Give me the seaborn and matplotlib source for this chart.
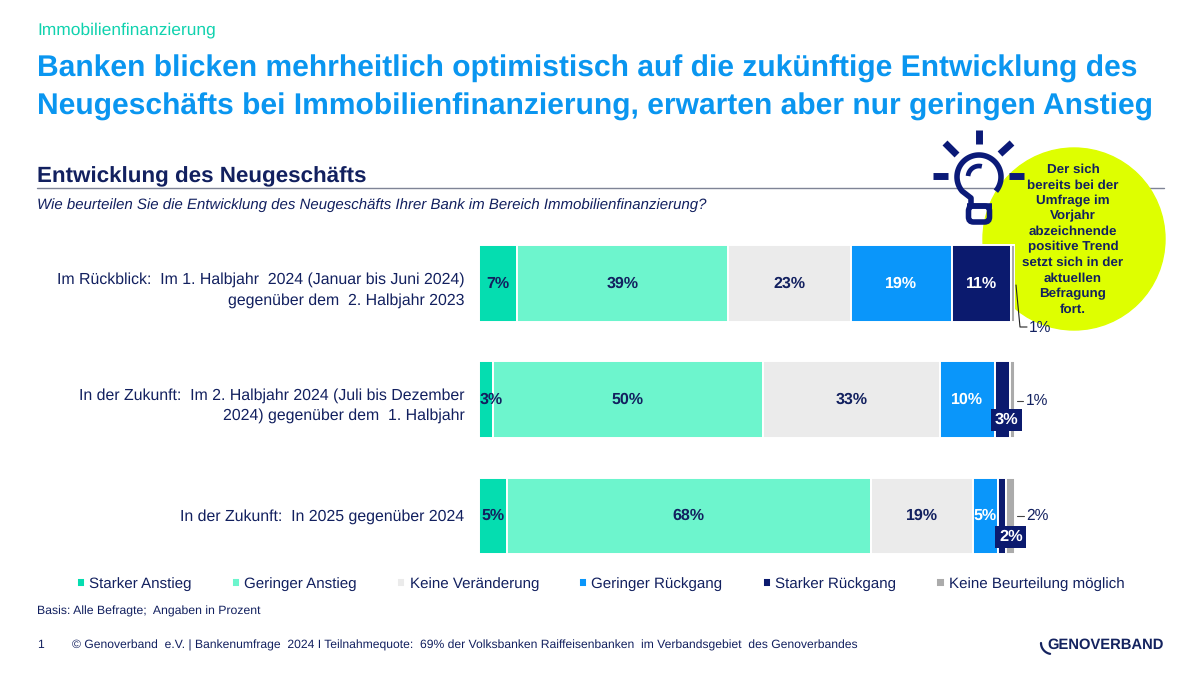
#!/usr/bin/env python3
"""Genoverband Bankenumfrage 2024: Entwicklung des Neugeschaefts."""

from __future__ import annotations

import matplotlib

matplotlib.use("Agg")

import matplotlib.pyplot as plt
import numpy as np
import pandas as pd
import seaborn as sns
from matplotlib.patches import Circle, FancyBboxPatch

NAVY = "#12205F"
ICON = "#0B1A78"
TITLE_BLUE = "#0A96F0"

QUESTIONS = [
    "Im Rückblick:  Im 1. Halbjahr  2024 (Januar bis Juni 2024)\ngegenüber dem  2. Halbjahr 2023",
    "In der Zukunft:  Im 2. Halbjahr 2024 (Juli bis Dezember\n2024) gegenüber dem  1. Halbjahr",
    "In der Zukunft:  In 2025 gegenüber 2024",
]
SERIES = [
    "Starker Anstieg",
    "Geringer Anstieg",
    "Keine Veränderung",
    "Geringer Rückgang",
    "Starker Rückgang",
    "Keine Beurteilung möglich",
]
COLORS = ["#05DDB0", "#6DF5CD", "#EBEBEB", "#0A96FA", "#0B1A6E", "#ABABAB"]

# bar widths, printed labels are the rounded ones
STARKER_ANSTIEG = [7.1, 2.6, 5.2]
GERINGER_ANSTIEG = [39.4, 50.4, 67.9]
KEINE_VERAENDERUNG = [22.9, 33.0, 19.0]
GERINGER_RUECKGANG = [18.8, 10.2, 4.8]
STARKER_RUECKGANG = [11.0, 2.8, 1.5]
KEINE_BEURTEILUNG = [0.8, 1.0, 1.6]

CIRCLE_TEXT = (
    "Der sich\nbereits bei der\nUmfrage im\nVorjahr\nabzeichnende\npositive Trend\n"
    "setzt sich in der\naktuellen\nBefragung\nfort."
)

sns.set_theme(style="white")
plt.rcParams["font.family"] = ["Liberation Sans", "DejaVu Sans"]
plt.rcParams["text.hinting"] = "no_hinting"


def draw_bulb(ax) -> None:
    lw = 4.0
    for x0, y0, x1, y1 in [
        (979, 130, 979, 144),
        (945, 143, 957, 155),
        (1012, 143, 1000, 154),
        (933, 175.5, 948, 175.5),
        (1009, 175.5, 1024, 175.5),
    ]:
        ax.plot([x0, x1], [y0, y1], color=ICON, lw=5, solid_capstyle="butt")
    # glass, y runs downwards here
    t = np.radians(np.linspace(140, 400, 80))
    xs = np.r_[971, 971, 979 + 22 * np.cos(t)]
    ys = np.r_[206, 198, 177 + 22 * np.sin(t)]
    ax.plot(xs, ys, color=ICON, lw=lw, solid_capstyle="butt")
    # highlight
    t = np.radians(np.linspace(185, 285, 20))
    ax.plot(979 + 11 * np.cos(t), 177 + 11 * np.sin(t), color=ICON, lw=lw - 0.6,
            solid_capstyle="butt")
    # socket
    ax.add_patch(FancyBboxPatch((968.5, 206), 21, 16, boxstyle="round,pad=0,rounding_size=5",
                                fill=False, ec=ICON, lw=lw))
    ax.plot([966.5, 991.5], [206, 206], color=ICON, lw=lw, solid_capstyle="butt")


def main() -> None:
    fig = plt.figure(figsize=(12, 6.75), dpi=100, facecolor="white")

    # helper layers in picture pixels, behind and in front of the bars
    back = fig.add_axes([0, 0, 1, 1], zorder=0)
    front = fig.add_axes([0, 0, 1, 1], zorder=2)
    for layer in (back, front):
        layer.set_xlim(0, 1200)
        layer.set_ylim(675, 0)
        layer.axis("off")
    front.patch.set_alpha(0)

    back.plot([37, 1164], [188, 188], color="#7F8496", lw=1)
    back.add_patch(Circle((1074, 239), 91, color="#DEFF00", zorder=3))

    top_px, bottom_px = 225, 575
    first_px, last_px = 283.5, 516
    step = (last_px - first_px) / 2
    ax = fig.add_axes(
        [479 / 1200, 1 - bottom_px / 675, 536 / 1200, (bottom_px - top_px) / 675], zorder=1
    )
    ax.patch.set_alpha(0)

    values = [
        STARKER_ANSTIEG,
        GERINGER_ANSTIEG,
        KEINE_VERAENDERUNG,
        GERINGER_RUECKGANG,
        STARKER_RUECKGANG,
        KEINE_BEURTEILUNG,
    ]
    df = pd.DataFrame(dict(zip(SERIES, values)))
    df.insert(0, "frage", QUESTIONS)

    lefts = np.zeros(len(QUESTIONS))
    label_pos = {}
    for name, color in zip(SERIES, COLORS):
        sns.barplot(
            data=df,
            y="frage",
            x=name,
            order=QUESTIONS,
            left=lefts,
            color=color,
            saturation=1,
            width=0.66,
            edgecolor="white",
            linewidth=1.4,
            errorbar=None,
            label=name,
            legend=False,
            ax=ax,
        )
        label_pos[name] = lefts + df[name].to_numpy() / 2
        lefts = lefts + df[name].to_numpy()

    ax.set_xlim(0, 100)
    ax.set_ylim((bottom_px - first_px) / step, (top_px - first_px) / step)
    ax.set_xlabel("")
    ax.set_ylabel("")
    ax.set_xticks([])
    ax.set_yticklabels([])
    sns.despine(ax=ax, left=True, bottom=True, top=True, right=True)
    ax.tick_params(axis="y", length=0)

    # question texts sit a little below the bar centres in the original
    for i, (question, dy) in enumerate(zip(QUESTIONS, [6.5, 5.5, 1])):
        ax.annotate(question, (0, i), xytext=(-10.5, -dy * 0.72), textcoords="offset points",
                    ha="right", va="center", ma="right", fontsize=11.4, color=NAVY,
                    linespacing=1.45)

    # value labels inside the bars
    for name, color in zip(SERIES[:4], [NAVY, NAVY, NAVY, "white"]):
        for i, (x, v) in enumerate(zip(label_pos[name], df[name])):
            shift = 5 * 0.72 if (name, i) == (SERIES[0], 1) else 0
            ax.annotate(f"{round(v)}%", (x, i), xytext=(shift, 0), textcoords="offset points",
                        ha="center", va="center", fontsize=11.5, fontweight="bold", color=color)
    ax.text(label_pos[SERIES[4]][0], 0, f"{round(STARKER_RUECKGANG[0])}%", ha="center",
            va="center", fontsize=11.5, fontweight="bold", color="white", zorder=6)

    # narrow segments get a small box below the centre line
    box = dict(boxstyle="square,pad=0.22", fc="#0B1A6E", ec="none")
    for i, dx, dy in [(1, 4.5, 20), (2, 8.5, 21)]:
        ax.annotate(f"{round(STARKER_RUECKGANG[i])}%", (label_pos[SERIES[4]][i], i),
                    xytext=(dx * 0.72, -dy * 0.72), textcoords="offset points", ha="center",
                    va="center", fontsize=11.8, fontweight="bold", color="white", bbox=box,
                    zorder=7)

    # outside labels with leader lines
    front.plot([1016, 1020, 1027], [285, 327, 327], color="#222222", lw=0.8)
    front.plot([1017, 1023], [401, 401], color="#444444", lw=0.8)
    front.plot([1017, 1024], [516, 516], color="#444444", lw=0.8)
    for px, py, v in [(1040, 328, KEINE_BEURTEILUNG[0]), (1037, 401, KEINE_BEURTEILUNG[1]),
                      (1037, 516, KEINE_BEURTEILUNG[2])]:
        front.text(px, py, f"{round(v)}%", ha="center", va="center", fontsize=11.2, color=NAVY)

    # header
    front.text(37, 30, "Immobilienfinanzierung", fontsize=12.5, color="#10D2AE", va="center")
    front.text(37, 68.5, "Banken blicken mehrheitlich optimistisch auf die zukünftige Entwicklung des",
               fontsize=21.6, fontweight="bold", color=TITLE_BLUE, va="center")
    front.text(37, 106.5, "Neugeschäfts bei Immobilienfinanzierung, erwarten aber nur geringen Anstieg",
               fontsize=21.6, fontweight="bold", color=TITLE_BLUE, va="center")
    front.text(37, 177, "Entwicklung des Neugeschäfts", fontsize=16.1, fontweight="bold",
               color=NAVY, va="center")
    front.text(37, 205, "Wie beurteilen Sie die Entwicklung des Neugeschäfts Ihrer Bank im Bereich Immobilienfinanzierung?",
               fontsize=10.8, style="italic", color=NAVY, va="center")

    draw_bulb(front)
    front.text(1073, 239.5, CIRCLE_TEXT, ha="center", va="center", fontsize=9.6, fontweight="bold",
               color=NAVY, linespacing=1.36)

    # legend
    handles, labels = ax.get_legend_handles_labels()
    fig.legend(
        handles,
        labels,
        ncols=6,
        loc="center left",
        bbox_to_anchor=(77 / 1200, 1 - 584 / 675),
        frameon=False,
        fontsize=10.9,
        labelcolor=NAVY,
        handlelength=0.55,
        handleheight=0.55,
        handletextpad=0.27,
        columnspacing=2.65,
        borderpad=0,
        borderaxespad=0,
    )

    # footer
    front.text(37, 611, "Basis: Alle Befragte;  Angaben in Prozent", fontsize=8.8, color=NAVY,
               va="center")
    front.text(37, 645, "1", fontsize=8.7, color=NAVY, va="center")
    front.text(72, 645,
               "© Genoverband  e.V. | Bankenumfrage  2024 I Teilnahmequote:  69% der Volksbanken Raiffeisenbanken  im Verbandsgebiet  des Genoverbandes",
               fontsize=8.72, color=NAVY, va="center")
    front.text(1047, 645, "GENOVERBAND", fontsize=10.6, fontweight="bold", color="#14235F",
               va="center")
    t = np.radians(np.linspace(100, 180, 20))
    front.plot(1052 + 11 * np.cos(t), 643 + 11 * np.sin(t), color="#14235F", lw=1.6)

    fig.savefig("out.png", dpi=100)
    plt.close(fig)


if __name__ == "__main__":
    main()
